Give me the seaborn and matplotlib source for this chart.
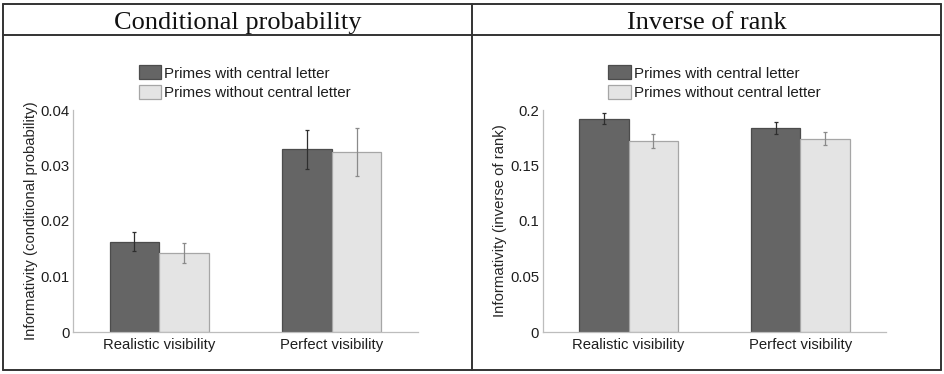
import matplotlib
matplotlib.use('Agg')
import numpy as np
import pandas as pd
import matplotlib.pyplot as plt
from matplotlib.lines import Line2D
import seaborn as sns

categories = ['Realistic visibility', 'Perfect visibility']
primes = ['Primes with central letter', 'Primes without central letter']

cond_with = [0.0163, 0.0329]
cond_with_err = [0.0017, 0.0035]
cond_without = [0.0143, 0.0324]
cond_without_err = [0.0018, 0.0043]

rank_with = [0.192, 0.184]
rank_with_err = [0.005, 0.0054]
rank_without = [0.172, 0.174]
rank_without_err = [0.006, 0.0058]

C_DARK = '#656565'
C_LIGHT = '#e4e4e4'
EDGE = ['#4c4c4c', '#a6a6a6']
ERR = ['#2e2e2e', '#8a8a8a']
C_BORDER = '#333333'

sns.set_style('white')
plt.rcParams['font.family'] = ['Liberation Sans', 'DejaVu Sans']
plt.rcParams['font.size'] = 10.7
plt.rcParams['text.color'] = '#1e1e1e'

W, H = 945, 374
fig = plt.figure(figsize=(W / 100, H / 100), dpi=100)


def make_df(v_with, v_without):
    return pd.DataFrame({
        'visibility': categories * 2,
        'prime': [primes[0]] * 2 + [primes[1]] * 2,
        'value': list(v_with) + list(v_without),
    })


def panel(rect, df, errs, ylim, yticks, ylabel):
    ax = fig.add_axes(rect)
    sns.barplot(data=df, x='visibility', y='value', hue='prime',
                order=categories, hue_order=primes,
                palette=[C_DARK, C_LIGHT], width=0.575, errorbar=None,
                linewidth=0.9, saturation=1, ax=ax)
    bar_conts = list(ax.containers)
    for i, cont in enumerate(bar_conts):
        xs = []
        ys = []
        for p in cont.patches:
            p.set_edgecolor(EDGE[i])
            xs.append(p.get_x() + p.get_width() / 2)
            ys.append(p.get_height())
        ax.errorbar(xs, ys, yerr=errs[i], fmt='none', ecolor=ERR[i],
                    elinewidth=0.9, capsize=1.6, capthick=0.9, zorder=5)
    ax.set_xlim(-0.5, len(categories) - 0.5)
    ax.set_ylim(*ylim)
    ax.set_yticks(yticks)
    ax.set_yticklabels([f'{t:g}' for t in yticks])
    ax.set_xlabel('')
    ax.set_ylabel(ylabel, labelpad=2)
    sns.despine(ax=ax)
    for s in ['left', 'bottom']:
        ax.spines[s].set_color('#bdbdbd')
        ax.spines[s].set_linewidth(0.9)
    ax.tick_params(length=0, pad=2.5, colors='#1e1e1e')
    ax.tick_params(axis='x', pad=4)
    old = ax.get_legend()
    handles = old.legend_handles
    labels = [t.get_text() for t in old.get_texts()]
    leg = ax.legend(handles, labels, loc='lower left', bbox_to_anchor=(0.19, 1.045),
                    frameon=False, borderpad=0, borderaxespad=0,
                    handlelength=1.5, handleheight=1.05, handletextpad=0.2,
                    labelspacing=0.28, fontsize=10.9)
    for i, h in enumerate(leg.legend_handles):
        h.set_facecolor([C_DARK, C_LIGHT][i])
        h.set_edgecolor(EDGE[i])
        h.set_linewidth(0.9)
    return ax


bottom = (H - 332) / H
height = (332 - 110) / H
panel([73 / W, bottom, 345 / W, height], make_df(cond_with, cond_without),
      [cond_with_err, cond_without_err], (0, 0.04), [0, 0.01, 0.02, 0.03, 0.04],
      'Informativity (conditional probability)')
panel([542.7 / W, bottom, 343.3 / W, height], make_df(rank_with, rank_without),
      [rank_with_err, rank_without_err], (0, 0.2), [0, 0.05, 0.1, 0.15, 0.2],
      'Informativity (inverse of rank)')

# table-like frame with header row
def fx(px):
    return px / W


def fy(py):
    return 1 - py / H


frame = [((3.5, 3.5), (941, 3.5)), ((3.5, 34.5), (941, 34.5)),
         ((3.5, 369.5), (941, 369.5)), ((3.5, 3.5), (3.5, 369.5)),
         ((472.5, 3.5), (472.5, 369.5)), ((941, 3.5), (941, 369.5))]
for (x0, y0), (x1, y1) in frame:
    fig.add_artist(Line2D([fx(x0), fx(x1)], [fy(y0), fy(y1)], color=C_BORDER,
                          lw=1.4, transform=fig.transFigure))

fig.text(fx(238), fy(29), 'Conditional probability', ha='center', va='baseline',
         fontsize=19, family=['Liberation Serif', 'DejaVu Serif'], color='#111111')
fig.text(fx(707), fy(29), 'Inverse of rank', ha='center', va='baseline',
         fontsize=19, family=['Liberation Serif', 'DejaVu Serif'], color='#111111')

fig.savefig('out.png', dpi=100)
